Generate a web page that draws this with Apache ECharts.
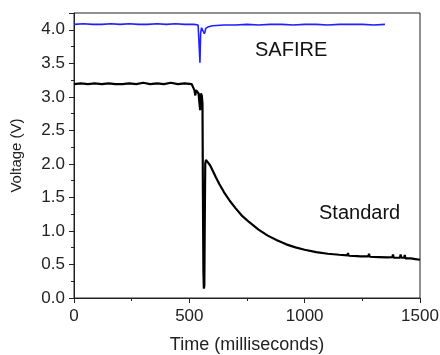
<!DOCTYPE html>
<html>
<head>
<meta charset="utf-8">
<script src="https://cdn.jsdelivr.net/npm/echarts@6/dist/echarts.min.js"></script>
<style>
  html, body { margin: 0; padding: 0; background: #fff; }
  #chart { width: 440px; height: 355px; }
</style>
</head>
<body>
<div id="chart"></div>
<script>
// SAFIRE trace (time in ms, voltage in V)
var safireTime = [0, 40, 80, 120, 160, 200, 240, 280, 320, 360, 400, 440, 480, 520, 538, 542, 546, 549, 553, 559, 565, 568, 571, 580, 600, 650, 700, 750, 800, 850, 900, 950, 1000, 1050, 1100, 1150, 1200, 1250, 1300, 1348];
var safireVolt = [4.08, 4.09, 4.08, 4.08, 4.09, 4.08, 4.09, 4.08, 4.08, 4.09, 4.08, 4.09, 4.08, 4.08, 4.07, 3.80, 3.51, 3.95, 4.03, 4.04, 3.94, 3.97, 4.02, 4.04, 4.06, 4.07, 4.07, 4.08, 4.07, 4.08, 4.08, 4.07, 4.08, 4.08, 4.07, 4.08, 4.08, 4.08, 4.07, 4.08];

// Standard trace
var stdTime = [0, 30, 60, 90, 120, 150, 180, 210, 240, 270, 300, 330, 360, 390, 420, 450, 480, 510, 518, 522, 526, 529, 536, 540, 544, 547, 550, 554, 557, 559, 561, 563, 565, 567, 569, 572, 578, 590, 600, 615, 630, 650, 675, 700, 730, 760, 800, 840, 880, 920, 960, 1000, 1050, 1100, 1150, 1185, 1188, 1191, 1230, 1235, 1240, 1276, 1279, 1282, 1320, 1360, 1380, 1383, 1386, 1413, 1416, 1419, 1431, 1434, 1437, 1460, 1480, 1500];
var stdVolt = [3.19, 3.20, 3.19, 3.20, 3.19, 3.20, 3.19, 3.19, 3.20, 3.19, 3.21, 3.19, 3.20, 3.19, 3.21, 3.19, 3.20, 3.19, 3.19, 3.10, 3.02, 3.10, 3.10, 3.05, 2.90, 2.80, 3.05, 3.02, 2.90, 1.50, 0.40, 0.14, 0.18, 1.20, 2.00, 2.06, 2.05, 1.98, 1.91, 1.80, 1.70, 1.58, 1.45, 1.34, 1.22, 1.13, 1.02, 0.93, 0.86, 0.80, 0.755, 0.72, 0.685, 0.66, 0.645, 0.635, 0.67, 0.63, 0.625, 0.645, 0.62, 0.62, 0.66, 0.615, 0.61, 0.605, 0.61, 0.65, 0.60, 0.60, 0.65, 0.60, 0.60, 0.64, 0.59, 0.59, 0.58, 0.57];

var yTicks = [0, 0.5, 1, 1.5, 2, 2.5, 3, 3.5, 4];
var xTicks = [0, 500, 1000, 1500];

function pairs(xs, ys){
    var out = [];
    for (var i = 0; i < xs.length; i++) {
        out.push([xs[i], ys[i]]);
    }
    return out;
}

var chart = echarts.init(document.getElementById('chart'), null, {renderer: 'canvas'});
var font = 'Liberation Sans, Arial, sans-serif';

chart.setOption({
    animation: false,
    grid: {
        left: 74, right: 20, top: 13, bottom: 57,
        show: true, borderColor: '#222', borderWidth: 1,
        outerBoundsMode: 'none'
    },
    xAxis: {
        type: 'value',
        min: 0, max: 1500, interval: 500,
        axisLine: { show: true, onZero: false, lineStyle: { color: '#222', width: 1 } },
        axisTick: { show: true, inside: false, length: 5, lineStyle: { color: '#222' } },
        minorTick: { show: true, splitNumber: 2, length: 3, lineStyle: { color: '#222' } },
        splitLine: { show: false },
        axisLabel: { color: '#222', fontSize: 17, fontFamily: font, margin: 10,
            formatter: function(v){ return xTicks.indexOf(v) >= 0 ? String(v) : ''; } },
        name: 'Time (milliseconds)',
        nameLocation: 'middle',
        nameGap: 38,
        nameTextStyle: { color: '#222', fontSize: 18, fontFamily: font }
    },
    yAxis: {
        type: 'value',
        min: 0, max: 4.25, interval: 0.5,
        axisLine: { show: true, onZero: false, lineStyle: { color: '#222', width: 1 } },
        axisTick: { show: true, inside: false, length: 5, lineStyle: { color: '#222' } },
        minorTick: { show: true, splitNumber: 2, length: 3, lineStyle: { color: '#222' } },
        splitLine: { show: false },
        axisLabel: { color: '#222', fontSize: 17, fontFamily: font, margin: 9,
            showMaxLabel: false,
            formatter: function(v){ return yTicks.indexOf(v) >= 0 ? v.toFixed(1) : ''; } },
        name: 'Voltage (V)',
        nameLocation: 'middle',
        nameGap: 50,
        nameTextStyle: { color: '#222', fontSize: 15, fontFamily: font }
    },
    graphic: [
        { type: 'text', left: 255, top: 40, style: { text: 'SAFIRE', fill: '#111', font: '20px ' + font } },
        { type: 'text', left: 319, top: 203, style: { text: 'Standard', fill: '#111', font: '20px ' + font } }
    ],
    series: [
        {
            name: 'SAFIRE',
            type: 'line',
            data: pairs(safireTime, safireVolt),
            showSymbol: false,
            lineStyle: { color: '#1f1fff', width: 1.6 },
            itemStyle: { color: '#1f1fff' }
        },
        {
            name: 'Standard',
            type: 'line',
            data: pairs(stdTime, stdVolt),
            showSymbol: false,
            lineStyle: { color: '#000', width: 2.2 },
            itemStyle: { color: '#000' }
        }
    ]
});
</script>
</body>
</html>
